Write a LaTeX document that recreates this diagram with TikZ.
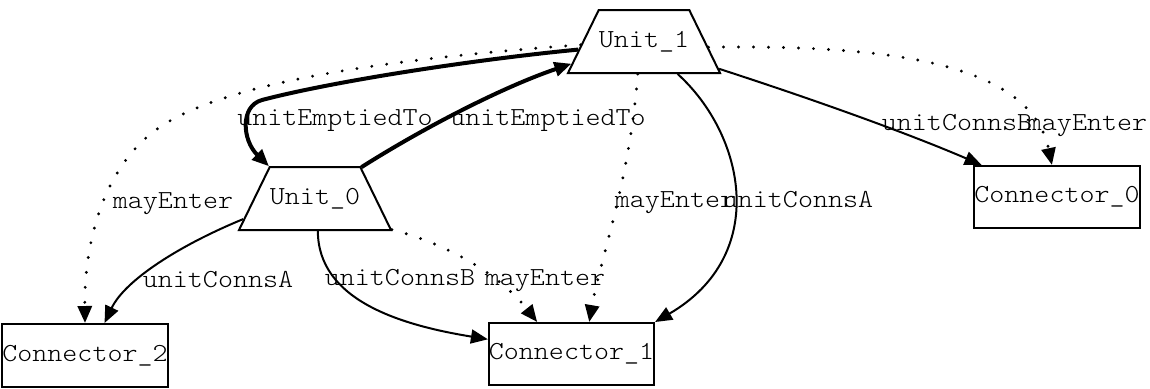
\documentclass[tikz,border=0pt]{standalone}
\usepackage{fontspec}
\newfontfamily\gvmono[FakeStretch=1.1]{Latin Modern Mono Light}
\usetikzlibrary{shapes.geometric,arrows.meta}

\begin{document}
\begin{tikzpicture}[x=0.5pt,y=-0.5pt,
  every node/.style={font=\gvmono\fontsize{13}{15}\selectfont, text=black},
  unit/.style={draw, line width=1pt, trapezium, trapezium left angle=64,
    trapezium right angle=64, trapezium stretches body=true,
    text height=8pt, text depth=2pt, inner xsep=0pt, inner ysep=10.75pt,
    minimum width=76pt},
  conn/.style={draw, line width=1pt, rectangle, minimum width=80pt,
    minimum height=31.5pt, inner sep=0pt},
  lbl/.style={anchor=base, inner sep=0pt},
  tip/.style={-{Triangle[length=8.5pt,width=7pt]}},
  solidrel/.style={tip, line width=1pt},
  heavyrel/.style={tip, line width=2pt},
  dottedrel/.style={tip, line width=1.6pt, line cap=round, dash pattern=on 0pt off 7.5pt},
]
\useasboundingbox (0,0) rectangle (1150,388);

% units
\node[unit] (u1) at (644,41.5) {Unit\_1};
\node[unit] (u0) at (315,198.5) {Unit\_0};

% connectors
\node[conn] (c2) at (85,355.5) {Connector\_2};
\node[conn, minimum width=78.5pt, minimum height=31pt] (c1) at (571.5,354) {Connector\_1};
\node[conn, minimum height=31pt] (c0) at (1057,197) {Connector\_0};

% unitEmptiedTo relations
\draw[heavyrel] (u1.187) .. controls (470,60) and (330,82) .. (262,100)
  .. controls (240,106) and (242,140) .. (u0.145);
\draw[heavyrel] (u0.34) .. controls (420,130) and (500,88) .. (u1.197);

% relations leaving Unit_1
\draw[dottedrel] (u1.183) .. controls (400,58) and (230,80) .. (160,127)
  .. controls (105,164) and (84,240) .. (c2.north);
\draw[solidrel] (u1.340) .. controls (800,95) and (900,130) .. (c0.157);
\draw[dottedrel] (u1.355) .. controls (880,45) and (1030,60) .. (c0.99);
\draw[dottedrel] (u1.259) .. controls (630,180) and (600,260) .. (c1.61);
\draw[solidrel] (u1.316) .. controls (745,135) and (770,255) .. (c1.north east);

% relations leaving Unit_0
\draw[solidrel] (u0.196) .. controls (180,245) and (125,280) .. (c2.59);
\draw[solidrel] (u0.275) .. controls (318,300) and (400,325) .. (c1.170);
\draw[dottedrel] (u0.338) .. controls (450,245) and (500,275) .. (c1.137);

% edge labels
\node[lbl] (l1) at (335,125) {unitEmptiedTo};
\node[lbl] (l2) at (548,125) {unitEmptiedTo};
\node[lbl] (l3) at (173,208) {mayEnter};
\node[lbl] (l4) at (218,287) {unitConnsA};
\node[lbl] (l5) at (400,285) {unitConnsB};
\node[lbl] (l6) at (545,285) {mayEnter};
\node[lbl] (l7) at (675,207) {mayEnter};
\node[lbl] (l8) at (798,207) {unitConnsA};
\node[lbl] (l9) at (957,130) {unitConnsB};
\node[lbl] (l10) at (1087,130) {mayEnter};
\end{tikzpicture}
\end{document}
